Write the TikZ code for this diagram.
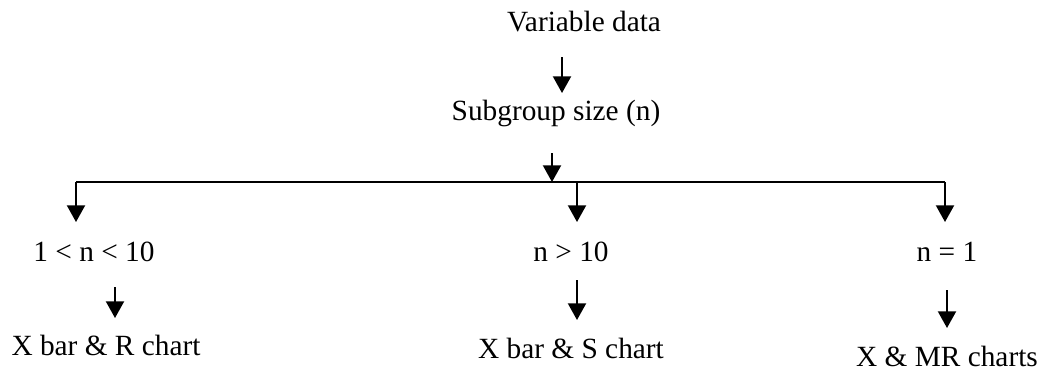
\documentclass[tikz,border=0pt]{standalone}
\usepackage{fontspec}
\setmainfont{Liberation Serif}
\usetikzlibrary{arrows.meta}

\begin{document}
\begin{tikzpicture}[
    x=0.75pt, y=-0.75pt,
    >={Triangle[width=13.5pt,length=12.5pt]},
    line width=1.5pt,
    every node/.style={inner sep=0pt, font=\fontsize{22}{26}\selectfont}
]
  \useasboundingbox (0,0) rectangle (1047,371);

  %--- exact positions ---
  \node (var) at (584,22)  {Variable data};
  \node (sub) at (556,113) {Subgroup size (n)};
  \node (c1)  at (94,252)  {1 < n < 10};
  \node (c2)  at (571,252) {n > 10};
  \node (c3)  at (947,252) {n = 1};
  \node (r1)  at (106,345) {X bar \& R chart};
  \node (s2)  at (571,348) {X bar \& S chart};
  \node (m3)  at (947,356) {X \& MR charts};

  \coordinate (bl) at (76,182);   % left end of the bus
  \coordinate (br) at (945,182);  % right end of the bus

  %--- edges ---
  \draw[->] ([shift={(-22,35)}]var.center) -- ([shift={(6,-20)}]sub.center);
  \draw[->] ([shift={(-4,40)}]sub.center) -- ([shift={(-4,0)}]sub.center |- bl);
  \draw (bl) -- (br);
  \draw[->] (bl) -- ([shift={(-18,-30)}]c1.center);
  \draw[->] ([shift={(6,0)}]c2.center |- bl) -- ([shift={(6,-30)}]c2.center);
  \draw[->] (br) -- ([shift={(-2,-30)}]c3.center);
  \draw[->] ([shift={(21,35)}]c1.center) -- ([shift={(9,-27)}]r1.center);
  \draw[->] ([shift={(6,28)}]c2.center) -- ([shift={(6,-28)}]s2.center);
  \draw[->] ([shift={(0,38)}]c3.center) -- ([shift={(0,-28)}]m3.center);
\end{tikzpicture}
\end{document}
